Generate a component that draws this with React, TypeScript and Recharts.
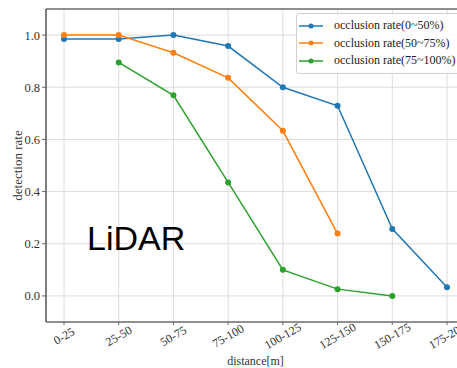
import React from "react";
import {
  LineChart,
  Line,
  XAxis,
  YAxis,
  CartesianGrid,
  Legend,
  ReferenceLine,
} from "recharts";

const categories = [
  "0-25",
  "25-50",
  "50-75",
  "75-100",
  "100-125",
  "125-150",
  "150-175",
  "175-200",
];

const occ0to50 = [0.985, 0.985, 1.0, 0.958, 0.8, 0.729, 0.257, 0.033];
const occ50to75 = [1.0, 1.0, 0.932, 0.836, 0.633, 0.239, null, null];
const occ75to100 = [null, 0.895, 0.769, 0.435, 0.1, 0.026, 0.0, null];

const yTicks = [0, 0.2, 0.4, 0.6, 0.8, 1.0];

const SERIES = [
  { key: "a", name: "occlusion rate(0~50%)", color: "#1f77b4" },
  { key: "b", name: "occlusion rate(50~75%)", color: "#ff7f0e" },
  { key: "c", name: "occlusion rate(75~100%)", color: "#2ca02c" },
];

const data = categories.map((name, i) => ({
  name,
  a: occ0to50[i],
  b: occ50to75[i],
  c: occ75to100[i],
}));

const SERIF = "'Liberation Serif', 'Times New Roman', serif";

const XTick = (props: any) => {
  const { x, y, payload } = props;
  return (
    <text
      x={x}
      y={y + 9}
      transform={`rotate(-30, ${x}, ${y + 9})`}
      textAnchor="middle"
      dominantBaseline="central"
      fontFamily={SERIF}
      fontSize={12}
      fill="#333"
    >
      {payload.value}
    </text>
  );
};

const LegendBox = () => (
  <div
    style={{
      border: "1px solid #d0d0d0",
      borderRadius: 3,
      background: "rgba(255,255,255,0.85)",
      padding: "3px 20px 3px 2px",
      fontFamily: SERIF,
      fontSize: 12,
      color: "#222",
    }}
  >
    {SERIES.map((s) => (
      <div
        key={s.key}
        style={{ display: "flex", alignItems: "center", height: 17.5 }}
      >
        <svg width={24} height={8} style={{ marginRight: 11 }}>
          <line x1={0} y1={4} x2={24} y2={4} stroke={s.color} strokeWidth={1.5} />
          <circle cx={12} cy={4} r={2.5} fill={s.color} />
        </svg>
        <span style={{ whiteSpace: "nowrap" }}>{s.name}</span>
      </div>
    ))}
  </div>
);

export default function App() {
  return (
    <div
      style={{
        position: "absolute",
        left: 0,
        top: 0,
        width: 457,
        height: 368,
        overflow: "hidden",
        background: "#fff",
      }}
    >
      <LineChart
        width={490}
        height={368}
        data={data}
        margin={{ top: 9, right: 25, bottom: 0, left: 8 }}
      >
        <CartesianGrid stroke="#dcdcdc" strokeWidth={1} />
        <XAxis
          dataKey="name"
          padding={{ left: 18, right: 18 }}
          height={46}
          axisLine={{ stroke: "#333", strokeWidth: 1.2 }}
          tickLine={{ stroke: "#666" }}
          tickSize={3}
          tick={<XTick />}
          interval={0}
          label={{
            value: "distance[m]",
            position: "insideBottom",
            offset: 3,
            fontFamily: SERIF,
            fontSize: 12,
            fill: "#333",
          }}
        />
        <YAxis
          domain={[-0.1, 1.1]}
          ticks={yTicks}
          allowDataOverflow
          width={38}
          axisLine={{ stroke: "#333", strokeWidth: 1.2 }}
          tickLine={{ stroke: "#666" }}
          tickSize={4}
          tickMargin={2}
          tickFormatter={(v: number) => v.toFixed(1)}
          tick={{ fontFamily: SERIF, fontSize: 12.5, fill: "#333" }}
          label={{
            value: "detection rate",
            angle: -90,
            position: "insideLeft",
            offset: 9,
            fontFamily: SERIF,
            fontSize: 13,
            fill: "#333",
            style: { textAnchor: "middle" },
          }}
        />
        <ReferenceLine y={1.1} stroke="#333" strokeWidth={1.2} />
        {SERIES.map((s) => (
          <Line
            key={s.key}
            dataKey={s.key}
            name={s.name}
            stroke={s.color}
            strokeWidth={1.5}
            dot={{ r: 3, fill: s.color, stroke: s.color, strokeWidth: 0 }}
            activeDot={false}
            isAnimationActive={false}
          />
        ))}
        <Legend
          layout="vertical"
          align="center"
          verticalAlign="middle"
          content={<LegendBox />}
          wrapperStyle={{ left: 296, top: 13, width: "auto", height: "auto" }}
        />
      </LineChart>
      <svg
        width={457}
        height={368}
        style={{ position: "absolute", left: 0, top: 0, pointerEvents: "none" }}
      >
        <text
          x={87}
          y={250}
          fontFamily="'Liberation Sans', Arial, sans-serif"
          fontSize={34}
          fill="#000"
        >
          LiDAR
        </text>
      </svg>
    </div>
  );
}
